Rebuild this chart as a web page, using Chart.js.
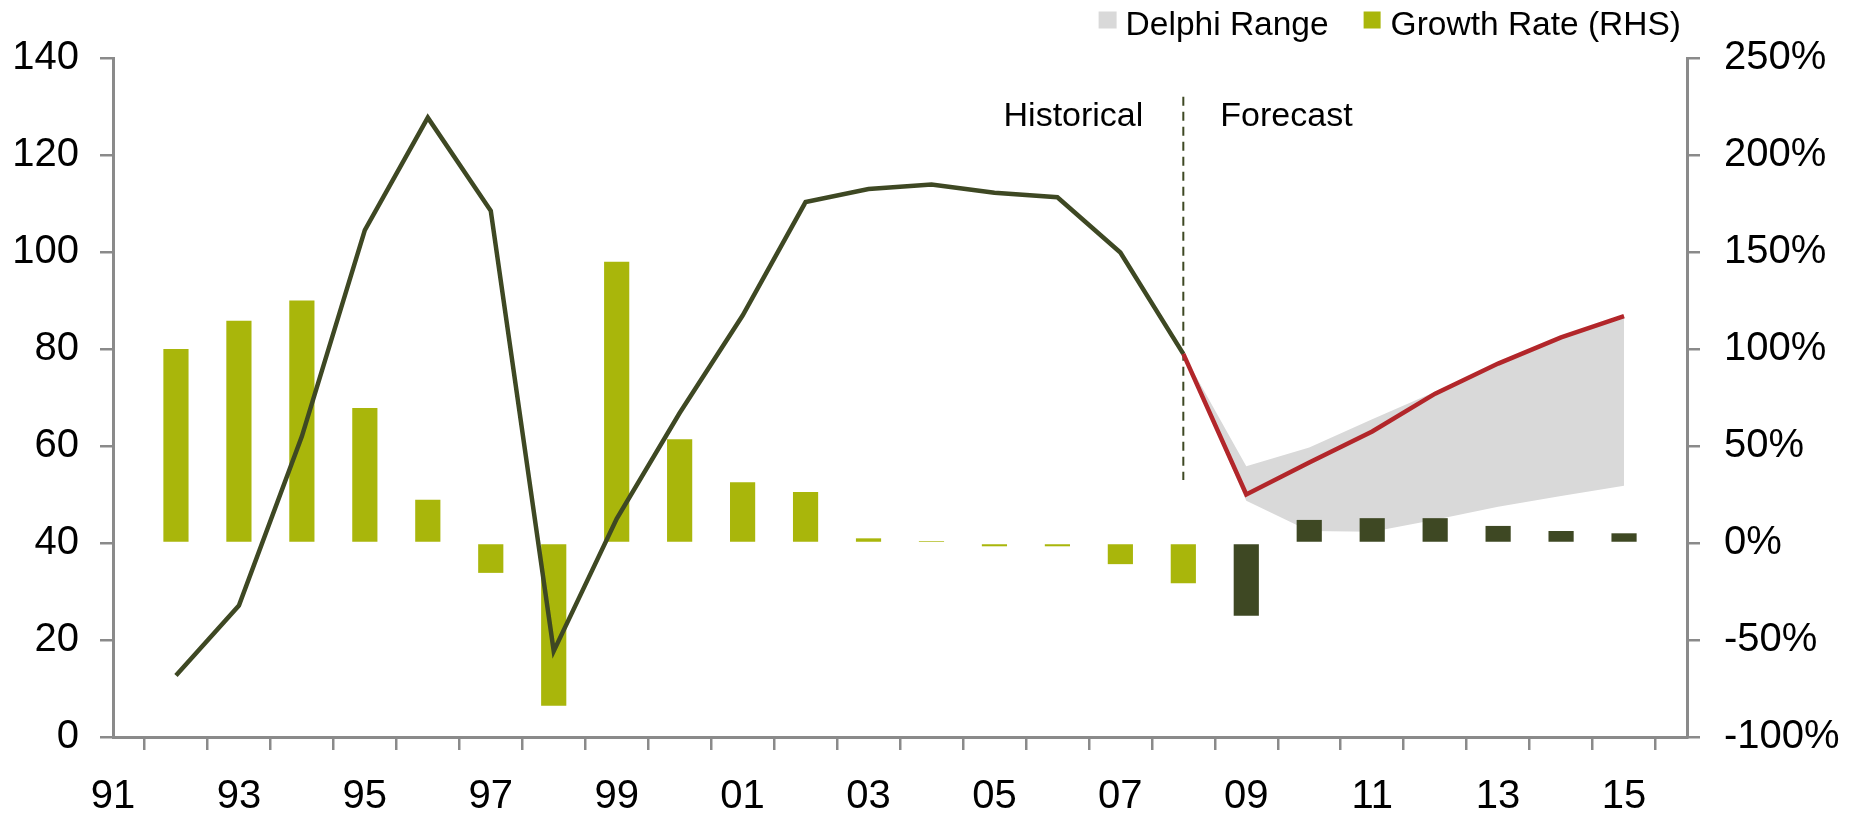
<!DOCTYPE html>
<html><head><meta charset="utf-8">
<script src="https://cdn.jsdelivr.net/npm/chart.js@4"></script>
<style>html,body{margin:0;padding:0;background:#fff}#wrap{width:1849px;height:818px;position:relative}</style>
</head><body><div id="wrap"><canvas id="c"></canvas></div>
<script>
// ---- data ----
const years = ['91','92','93','94','95','96','97','98','99','00','01','02','03','04','05','06','07','08','09','10','11','12','13','14','15','16'];
const indexHistorical = [null,12.7,27.1,62,104.5,127.7,108.5,17.7,45,66.8,86.9,110.3,113.0,113.9,112.2,111.3,99.9,79,null,null,null,null,null,null,null,null];
const indexForecast   = [null,null,null,null,null,null,null,null,null,null,null,null,null,null,null,null,null,79,50,56.6,63,70.8,77,82.4,86.8,null];
const delphiLow       = [null,null,null,null,null,null,null,null,null,null,null,null,null,null,null,null,null,79,48.7,42.5,42.3,44.8,47.5,49.7,51.8,null];
const delphiHigh      = [null,null,null,null,null,null,null,null,null,null,null,null,null,null,null,null,null,79,55.8,59.7,65.5,71.2,77.2,82.6,87,null];
const growthRate      = [null,100,114.5,125,69.6,22.3,-15.4,-83.9,145,53.5,31.3,26.3,2.4,1.0,-1.7,-1.7,-10.9,-20.8,-37.5,11.9,12.8,12.8,8.8,6.2,5.0,null];
const leftAxis = {min:0, max:140, step:20};
const rightAxis = {min:-100, max:250, step:50};
const forecastStart = '09';
const dividerYear = '08';
const dividerSpan = [132, 53];
const phaseLabels = ['Historical', 'Forecast'];
const phaseLabelLevel = 126;
const legendLabels = ['Delphi Range', 'Growth Rate (RHS)'];

// ---- styles ----
const FONT = '"Liberation Sans", Arial, sans-serif';
const AXIS = '#8a8a8a';
const OLIVE = '#3e4823';
const LIME = '#a9b60b';
const RED = '#b2262a';
const GREY = '#d9d9d9';

const fIdx = years.indexOf(forecastStart);
const barColors = growthRate.map((v, i) => i >= fIdx ? OLIVE : LIME);

const annot = {
  id: 'annot',
  afterDraw(chart) {
    const c = chart.ctx, xs = chart.scales.x, ys = chart.scales.y, ca = chart.chartArea;
    const xd = xs.getPixelForValue(years.indexOf(dividerYear));
    c.save();
    c.fillStyle = '#000';
    c.font = '34px ' + FONT;
    c.textBaseline = 'alphabetic';
    const yb = ys.getPixelForValue(phaseLabelLevel);
    c.textAlign = 'right';
    c.fillText(phaseLabels[0], xd - 40, yb);
    c.textAlign = 'left';
    c.fillText(phaseLabels[1], xd + 37, yb);
    // legend
    c.font = '33.5px ' + FONT;
    const base = ca.top - 23.5;
    const sw = 17, gapT = 10, gapItem = 35;
    const w2 = c.measureText(legendLabels[1]).width;
    const w1 = c.measureText(legendLabels[0]).width;
    const x2t = ca.right - 6 - w2;
    const x2s = x2t - gapT - sw;
    const x1t = x2s - gapItem - w1;
    const x1s = x1t - gapT - sw;
    c.fillStyle = GREY; c.fillRect(x1s, base - 23, sw + 1, sw);
    c.fillStyle = LIME; c.fillRect(x2s, base - 23, sw, sw);
    c.fillStyle = '#000';
    c.fillText(legendLabels[0], x1t, base);
    c.fillText(legendLabels[1], x2t, base);
    c.restore();
  }
};

const tickFont = {family: FONT, size: 40};

new Chart(document.getElementById('c'), {
  type: 'bar',
  data: {
    labels: years,
    datasets: [
      {type: 'line', label: 'Forecast', data: indexForecast, borderColor: RED, borderWidth: 4.5, pointRadius: 0, yAxisID: 'y', order: 0, fill: false},
      {type: 'line', label: 'Index', data: indexHistorical, borderColor: OLIVE, borderWidth: 4.5, pointRadius: 0, yAxisID: 'y', order: 1, fill: false},
      {type: 'line', label: 'Divider', data: dividerSpan.map(v => ({x: dividerYear, y: v})), borderColor: OLIVE, borderWidth: 2, borderDash: [9, 6], pointRadius: 0, yAxisID: 'y', order: 2, fill: false},
      {type: 'bar', label: 'Growth Rate (RHS)', data: growthRate, backgroundColor: barColors, yAxisID: 'y2', order: 3, categoryPercentage: 1, barPercentage: 0.4},
      {type: 'line', label: 'Delphi Low', data: delphiLow, borderWidth: 0, borderColor: 'rgba(0,0,0,0)', pointRadius: 0, yAxisID: 'y', order: 5, fill: false},
      {type: 'line', label: 'Delphi Range', data: delphiHigh, borderWidth: 0, borderColor: 'rgba(0,0,0,0)', backgroundColor: GREY, pointRadius: 0, yAxisID: 'y', order: 4, fill: '-1'}
    ]
  },
  options: {
    responsive: true,
    maintainAspectRatio: false,
    devicePixelRatio: 1,
    animation: false,
    layout: {padding: {top: 58, left: 0, right: 0, bottom: 0}},
    plugins: {legend: {display: false}, tooltip: {enabled: false}},
    scales: {
      x: {
        type: 'category', offset: false,
        grid: {display: true, drawOnChartArea: false, drawTicks: true, tickLength: 13, color: AXIS, lineWidth: 2.5},
        border: {display: true, color: AXIS, width: 3},
        ticks: {autoSkip: false, maxRotation: 0, minRotation: 0, padding: 23, color: '#000', font: tickFont,
          callback: (v, i) => i % 2 === 0 ? years[i] : ''},
        afterFit: s => { s.height = 81; }
      },
      y: {
        position: 'left', min: leftAxis.min, max: leftAxis.max,
        ticks: {stepSize: leftAxis.step, padding: 21, color: '#000', font: tickFont},
        grid: {drawOnChartArea: false, drawTicks: true, tickLength: 13, color: AXIS, lineWidth: 2.5},
        border: {display: true, color: AXIS, width: 3},
        afterFit: s => { s.width = 113; }
      },
      y2: {
        position: 'right', min: rightAxis.min, max: rightAxis.max,
        ticks: {stepSize: rightAxis.step, padding: 24, color: '#000', font: tickFont, callback: v => v + '%'},
        grid: {drawOnChartArea: false, drawTicks: true, tickLength: 13, color: AXIS, lineWidth: 2.5},
        border: {display: true, color: AXIS, width: 3},
        afterFit: s => { s.width = 162; }
      }
    }
  },
  plugins: [annot]
});
</script>
</body></html>
